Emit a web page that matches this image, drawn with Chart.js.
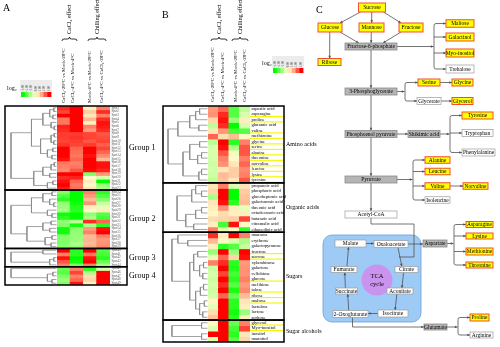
<!DOCTYPE html>
<html><head><meta charset="utf-8">
<script src="https://cdn.jsdelivr.net/npm/chart.js@4.4.1/dist/chart.umd.min.js"></script>
<style>
html,body{margin:0;padding:0;background:#fff;}
#wrap{position:relative;width:500px;height:347px;overflow:hidden;background:#fff;}
#wrap canvas{position:absolute;}
</style></head><body>
<div id="wrap">
<canvas id="heatA" width="53" height="179" style="left:57px;top:106px"></canvas>
<canvas id="heatB" width="42" height="236" style="left:208px;top:106px"></canvas>
<canvas id="overlay" width="500" height="347" style="left:0;top:0"></canvas>
</div>
<script>
// ================= DATA =================
const comparisons = ['CaCl₂-28°C vs Mock-28°C','CaCl₂-4°C vs Mock-4°C','Mock-4°C vs Mock-28°C','CaCl₂-4°C vs CaCl₂-28°C'];
const effects = ['CaCl₂ effect','Chilling effect'];
const legendSteps = [-3,-2,-1,-0.3,0.3,1,2,3];
const legendTicks = [-3,-2,-1,0,1,2,3];

// Panel A (protein spots, log2 ratios)
const groupNamesA = ['Group 1','Group 2','Group 3','Group 4'];
const group1Values = [
 [2.5,3,0.2,1.5],[2.2,3,0.6,2.5],[3,3,0.3,1.5],[1.6,3,0.8,2.5],[1.6,3,0.2,2.8],[2.6,3,1.5,2.7],
 [2.5,3,1.2,2.5],[2.3,2.3,2.2,2.0],[2.3,2.4,2.2,2.1],[2.2,2.3,2.0,2.2],[2.4,2.2,2.3,1.9],[3,1.8,3,2.2],
 [3,1.7,3,1.8],[3,1.6,2.8,1.4],[2.8,1.8,3,0.8],[1.6,1.5,3,2.8],[1.5,1.6,3,2.8],[1.4,2.0,2.9,2.6],
 [3,3,-1.5,1.2],[2.5,2.6,0,-0.5],[2.8,1.8,0.2,-3],[3,1.6,0.1,-1.2],[2.7,1.7,0.3,-1.0]];
const group2Values = [
 [-1.5,-3,1.5,-2.5],[-2,-3,1.2,-2],[-2.5,-3,0.8,-1.5],[-1.2,-2.8,1.3,-0.6],[-1.2,-2.6,0.2,-0.3],[-1.0,-2.5,0.1,0.2],
 [-2.8,-3,-1.3,-2],[-2.5,-3,-1.0,-2.2],[-1.3,-0.8,2.5,1.8],[-1.5,-2.8,-1,-2.5],[-2.8,-1.3,1.2,2.8],[-2.8,-1.3,1.5,3],
 [-1.4,-1.2,0.8,1.5],[-1.5,-1.2,0.9,1.2],[-1.5,-1.0,0.8,1.3],[-1.3,-1.2,1.0,1.4]];
const group3Values = [[3,-2.5,3,-2],[1.5,-2.5,1.6,-2.2],[2.8,-3,2.8,-2.5],[2.0,-2.8,3,-1.8],[1.5,-1.5,1.5,-1.0]];
const group4Values = [[-1.8,1.5,-2.5,-0.5],[-2,2.2,-1.0,3],[-1.5,1.5,0.4,3],[-1.2,1.8,0.5,3],[-1.5,2.8,0.2,3]];
const group1Spots = group1Values.map((_,i)=>'Spot'+(i+1));
const group2Spots = group2Values.map((_,i)=>'Spot'+(i+24));
const group3Spots = group3Values.map((_,i)=>'Spot'+(i+40));
const group4Spots = group4Values.map((_,i)=>'Spot'+(i+45));

// Panel B (metabolites, log2 ratios)
const classNamesB = ['Amino acids','Organic acids','Sugars','Sugar alcohols'];
const aminoNames = ['aspartic acid','asparagine','proline','glutamic acid','valine','methionine','glycine','serine','alanine','threonine','norvaline','leucine','lysine','tyrosine'];
const aminoValues = [[1.2,1.8,-2,-0.8],[1.3,2.5,-2,-0.5],[0.5,2.8,-1.2,0.2],[-0.8,2.5,-3,-0.5],[0.3,1.2,-2.2,-2],[1.8,0.4,0.8,0.1],[-0.8,3,-2.5,1.5],[-0.4,2.8,-1,2],[-0.5,2,-0.2,2],[-0.5,1.5,0.1,1.5],[-0.6,1.3,0.3,1.8],[-0.5,0.3,0.6,1.4],[-0.6,0.8,0.6,1.5],[-0.8,0.7,0.3,2]];
const organicNames = ['propanoic acid','phosphoric acid','glucoheptonic acid','galacturonic acid','threonic acid','octadecanoic acid','butanoic acid','citramalic acid','ethanedioic acid'];
const organicValues = [[0.3,1.5,-0.4,0.3],[0.5,3,-3,0.6],[-1,3,-3,0.7],[0.3,2.8,-2.5,0.8],[0.2,1.3,0.2,-0.3],[0.1,0.4,0.2,0.2],[0.4,0.5,0.6,2.2],[0.2,-2.2,2.8,0.1],[1.5,-0.4,0.1,-2.5]];
const sugarNames = ['mannose','erythrose','galactopyranose','fructose','sucrose','xylarabinose','galactose','cellobiose','glucose','melibiose','talose','ribose','maltose','lactulose','lactose','sorbose'];
const sugarValues = [[2.5,0.2,3,1.5],[0.8,0.1,-0.5,-1],[0.2,-2.5,-2,-0.7],[-1.2,3,-1.2,3],[-0.3,1.8,0.5,2.8],[1.5,2.5,-2.5,1.2],[-0.6,3,-2.6,1.3],[-0.5,2.2,-2.2,1.3],[-0.6,3,-2.5,1.5],[-0.5,2.5,-2,1.2],[-0.6,3,-2.7,1.4],[-0.5,1.8,-1.8,0.8],[0.1,3,-2.5,0.3],[-0.3,3,-2.5,0.2],[0.4,3,-2.8,-1.2],[0.7,3,-2.5,0.2]];
const alcoholNames = ['glycerol','Myo-inositol','inositol','mannitol'];
const alcoholValues = [[0.1,3,-1.8,1.5],[-0.4,3,-2.2,2.2],[3,3,-2.5,0.3],[-0.4,3,-2,0.5]];
const highlightedB = ['asparagine','proline','valine','methionine','glycine','serine','alanine','threonine','norvaline','leucine','lysine','tyrosine','fructose','sucrose','glucose','talose','ribose','maltose','glycerol','Myo-inositol'];

// Cluster trees: [linkage distance, left, right]; leaves are row indices
const treeA = [
 [1.0,[0.55,[0.3,[0.15,[0.06,0,1],[0.08,2,3]],[0.12,4,[0.05,5,6]]],[0.35,[0.12,[0.05,7,8],[0.06,9,10]],[0.2,[0.08,11,12],[0.1,13,14]]]],[0.5,[0.3,[0.12,[0.05,15,16],17],[0.15,18,19]],[0.2,[0.08,20,21],22]]],
 [1.0,[0.55,[0.3,[0.1,0,1],[0.15,2,[0.06,3,4]]],[0.2,5,[0.1,6,7]]],[0.65,[0.3,[0.12,8,9],[0.15,10,11]],[0.25,[0.1,12,13],[0.12,14,15]]]],
 [1.0,[0.3,0,1],[0.15,[0.06,2,3],4]],
 [1.0,0,[0.2,[0.08,1,2],[0.1,3,4]]]];
const treeB = [
 [1.0,[0.75,[0.45,[0.3,[0.2,0,1],2],[0.22,3,4]],5],[0.62,[0.45,[0.2,6,7],[0.25,[0.15,8,9],10]],[0.22,[0.15,11,12],13]]],
 [0.77,[0.4,[0.3,0,[0.15,1,2]],3],[0.55,[0.3,[0.15,4,5],6],[0.35,7,8]]],
 [0.9,[0.75,0,[0.5,1,2]],[0.45,[0.35,[0.25,3,4],[0.2,[0.1,5,6],[0.12,7,8]]],[0.3,[0.18,[0.1,9,10],11],[0.2,[0.08,12,13],[0.12,14,15]]]]],
 [0.9,[0.15,0,1],[0.15,2,3]]];

// Panel C pathway nodes: id -> [label, status] (up = increased, mid = intermediate, nd = not detected)
const pathwayNodes = {
 sucrose:['Sucrose','up'], glucose:['Glucose','up'], mannose:['Mannose','up'], fructose:['Fructose','up'], ribose:['Ribose','up'],
 f6p:['Fructose-6-phosphate','mid'], maltose:['Maltose','up'], odinlose:['Galactinol','up'], myo:['Myo-inositol','up'], trehalose:['Trehalose','nd'],
 serine:['Serine','up'], glycine:['Glycine','up'], glycerate:['Glycerate','nd'], glycerol:['Glycerol','up'], pg3:['3-Phosphoglycerate','mid'],
 pep:['Phosphoenol pyruvate','mid'], shik:['Shikimic acid','mid'], tyr:['Tyrosine','up'], trp:['Tryptophan','nd'], phe:['Phenylalanine','nd'],
 pyr:['Pyruvate','mid'], ala:['Alanine','up'], leu:['Leucine','up'], val:['Valine','up'], nva:['Norvaline','up'], ile:['Isoleucine','nd'],
 acoa:['Acetyl-CoA','nd'], malate:['Malate','nd'], oaa:['Oxaloacetate','nd'], citrate:['Citrate','nd'], acon:['Aconitate','nd'],
 isocit:['Isocitrate','nd'], og:['2-Oxoglutarate','nd'], succ:['Succinate','nd'], fum:['Fumarate','nd'], asp:['Aspartate','mid'],
 asn:['Asparagine','up'], lys:['Lysine','up'], met:['Methionine','up'], thr:['Threonine','up'], glu:['Glutamate','mid'], pro:['Proline','up'], arg:['Arginine','nd']};
const pathwayEdges = [
 ['sucrose','glucose','d'],['sucrose','mannose','d'],['sucrose','fructose','d'],['glucose','ribose','d'],['glucose','f6p','d'],
 ['mannose','f6p','d'],['fructose','f6p','d'],['f6p','pg3','d'],['pg3','pep','d'],['pep','pyr','d'],['pyr','acoa','d'],
 ['serine','glycine','r'],['glycerate','glycerol','r'],['pep','shik','r'],['val','nva','r'],['malate','oaa','r'],['oaa','asp','r'],
 ['isocit','og','l'],['oaa','citrate','d'],['citrate','acon','d'],['acon','isocit','d'],['og','succ','u'],['succ','fum','u'],['fum','malate','u']];
const pathwayFans = [['f6p',['maltose','odinlose','myo','trehalose']],['pg3',['serine','glycerate']],['shik',['tyr','trp','phe']],
 ['pyr',['ala','leu','val','ile']],['asp',['asn','lys','met','thr']],['glu',['pro','arg']]];

// ================= LAYOUT (positions / sizes / styles) =================
const FONT = '"Liberation Serif","Times New Roman",Times,serif';
const HA = {x:57, y:106, w:53, h:179};
const HB = {x:208, y:106, w:42, h:236};
const nodeBox = { // cx, cy, w, h
 sucrose:[372,7.5,27,9], glucose:[330,27.5,24,9], mannose:[371.5,27.5,25,9], fructose:[411,27.5,24,9], ribose:[329.5,62,23,7],
 f6p:[371,46.5,52,7], maltose:[460,23.5,28,7.5], odinlose:[460,37,28,8], myo:[460,53,28,8], trehalose:[460,69,28,8],
 serine:[429,82.5,22,7], glycine:[462.5,82.5,21,7], glycerate:[429,101,24,7], glycerol:[462.5,101,21,7], pg3:[371,91.5,52,7],
 pep:[371,134,52,7], shik:[424,134,32,7], tyr:[477.5,115.5,31,7], trp:[477.5,133,31,7], phe:[478.5,152.5,33,7],
 pyr:[371,179.5,52,7], ala:[437.5,160,25,6.5], leu:[437.5,171.5,25,6.5], val:[437.5,186,25,6.5], nva:[475.5,186,25,6.5], ile:[437.5,200,25,6.5],
 acoa:[371,214.5,52,7], malate:[350.5,243.5,31,7], oaa:[391,244,34,7], citrate:[406.5,269.5,23,6], acon:[400,291,26,6],
 isocit:[393,313.5,30,7], og:[350.5,314,35,7], succ:[346.5,291,22,6], fum:[344,269.5,26,6], asp:[435,243.5,24,7],
 asn:[479.5,224.5,27,6], lys:[479.5,236,27,6], met:[479.5,251.5,27,7], thr:[479.5,265,27,6], glu:[435.5,327,23,6], pro:[479.5,317.5,19,7], arg:[481.5,335,23,6]};
const nodeStyle = {up:{fill:'#ffff00',stroke:'#f0502a',lw:1}, mid:{fill:'#b5b5b5',stroke:'#8a8a8a',lw:0.8}, nd:{fill:'#ffffff',stroke:'#9a9a9a',lw:0.7}};

function heatColor(v){
  const t=Math.max(-1,Math.min(1,v/3));
  let c;
  if(t>=0) c=[255,Math.round(255*(1-t)),Math.round(204*(1-t))];
  else {const u=-t; c=[Math.round(255*(1-u)),255,Math.round(204*(1-u))];}
  return 'rgb('+c.join(',')+')';
}

// ================= HEATMAPS =================
const rowsA = [].concat(group1Values,group2Values,group3Values,group4Values);
const rowsB = [].concat(aminoValues,organicValues,sugarValues,alcoholValues);
const groupsA = [group1Values.length,group2Values.length,group3Values.length,group4Values.length];
const groupsB = [aminoValues.length,organicValues.length,sugarValues.length,alcoholValues.length];
const labelsA = [].concat(group1Spots,group2Spots,group3Spots,group4Spots);
const labelsB = [].concat(aminoNames,organicNames,sugarNames,alcoholNames);

function makeHeat(id, rows){
  return new Chart(document.getElementById(id), {
    type:'bar',
    data:{labels:comparisons, datasets: rows.map(r=>({data:r.map(()=>1), backgroundColor:r.map(heatColor), borderWidth:0, inflateAmount:0.5, barPercentage:1, categoryPercentage:1}))},
    options:{responsive:false, animation:false, devicePixelRatio:1, events:[], layout:{padding:0},
      plugins:{legend:{display:false}, tooltip:{enabled:false}},
      scales:{x:{stacked:true, display:false}, y:{stacked:true, display:false, reverse:true, min:0, max:rows.length}}}
  });
}
makeHeat('heatA', rowsA);
makeHeat('heatB', rowsB);

// ================= DENDROGRAMS (as line datasets) =================
function dendroPoints(tree, yOf, xRight, width){
  const pts=[];
  (function rec(n){
    if(typeof n==='number') return {x:xRight, y:yOf(n)};
    const A=rec(n[1]), B=rec(n[2]); const x=xRight-n[0]*width;
    pts.push({x:A.x,y:A.y},{x:x,y:A.y},{x:x,y:B.y},{x:B.x,y:B.y},{x:NaN,y:NaN});
    return {x:x, y:(A.y+B.y)/2};
  })(tree);
  return pts;
}
const dendroSets = [];
(function(){
  const rhA = HA.h/rowsA.length, rhB = HB.h/rowsB.length;
  let off=0;
  treeA.forEach((t,g)=>{ const o=off; dendroSets.push(dendroPoints(t, i=>HA.y+(o+i+0.5)*rhA, HA.x-0.5, 45.5)); off+=groupsA[g]; });
  off=0;
  treeB.forEach((t,g)=>{ const o=off; dendroSets.push(dendroPoints(t, i=>HB.y+(o+i+0.5)*rhB, HB.x-0.5, 39.5)); off+=groupsB[g]; });
})();

// ================= DRAW HELPERS =================
function txt(ctx,s,x,y,size,o){
  o=o||{}; ctx.save(); ctx.font=(o.bold?'bold ':'')+size+'px '+FONT; ctx.fillStyle=o.color||'#000';
  ctx.textAlign=o.align||'left'; ctx.textBaseline=o.base||'middle';
  if(o.rot){ctx.translate(x,y);ctx.rotate(o.rot);ctx.fillText(s,0,0);} else ctx.fillText(s,x,y);
  ctx.restore();
}
function brace(ctx,x1,x2,y){
  const m=(x1+x2)/2; ctx.save(); ctx.strokeStyle='#000'; ctx.lineWidth=0.8; ctx.beginPath();
  ctx.moveTo(x1,y+2); ctx.quadraticCurveTo(x1,y,x1+2,y); ctx.lineTo(m-2,y); ctx.quadraticCurveTo(m,y,m,y-2);
  ctx.quadraticCurveTo(m,y,m+2,y); ctx.lineTo(x2-2,y); ctx.quadraticCurveTo(x2,y,x2,y+2); ctx.stroke(); ctx.restore();
}
function head(ctx,x0,y0,x1,y1){
  const a=Math.atan2(y1-y0,x1-x0), s=3;
  ctx.beginPath(); ctx.moveTo(x1,y1);
  ctx.lineTo(x1-s*Math.cos(a-0.45),y1-s*Math.sin(a-0.45)); ctx.lineTo(x1-s*Math.cos(a+0.45),y1-s*Math.sin(a+0.45)); ctx.closePath(); ctx.fill();
}
function poly(ctx,pts,arrow){
  ctx.beginPath(); ctx.moveTo(pts[0][0],pts[0][1]); for(let i=1;i<pts.length;i++) ctx.lineTo(pts[i][0],pts[i][1]); ctx.stroke();
  if(arrow){const n=pts.length; head(ctx,pts[n-2][0],pts[n-2][1],pts[n-1][0],pts[n-1][1]);}
}
const clamp=(v,a,b)=>Math.max(a,Math.min(b,v));
function box(id){const b=nodeBox[id]; return {cx:b[0],cy:b[1],w:b[2],h:b[3],l:b[0]-b[2]/2,r:b[0]+b[2]/2,t:b[1]-b[3]/2,b:b[1]+b[3]/2};}

function drawLegend(ctx,x,y,w,h,lx,ly){
  ctx.fillStyle='#ececec'; ctx.fillRect(x-1,y-12,w+2,12);
  txt(ctx,'log₂',lx,ly,6);
  const cw=w/legendSteps.length;
  legendSteps.forEach((v,i)=>{ctx.fillStyle=heatColor(v); ctx.fillRect(x+i*cw,y,cw+0.4,h);});
  const tw=w/legendTicks.length;
  legendTicks.forEach((v,i)=>txt(ctx,v.toFixed(2),x+(i+0.5)*tw,y-0.8,3,{rot:-Math.PI/2,color:'#666'}));
}

const figurePlugin = {
  id:'figure',
  afterDraw(chart){
    const ctx=chart.ctx;
    // ---------- Panel letters ----------
    txt(ctx,'A',3,8,10); txt(ctx,'B',162,15,10); txt(ctx,'C',316,10,10);
    // ---------- column headers ----------
    const hxA=[64,73,90,102], hxB=[213,223,235.5,245];
    comparisons.forEach((c,i)=>{ txt(ctx,c,hxA[i],103,5,{rot:-Math.PI/2}); txt(ctx,c,hxB[i],102,5,{rot:-Math.PI/2}); });
    const brA=[[62,77],[88,106]], brB=[[211,227],[232,248]];
    effects.forEach((e,i)=>{
      brace(ctx,brA[i][0],brA[i][1],39); brace(ctx,brB[i][0],brB[i][1],39);
      txt(ctx,e,(brA[i][0]+brA[i][1])/2,34,6,{rot:-Math.PI/2});
      txt(ctx,e,(brB[i][0]+brB[i][1])/2,34,6,{rot:-Math.PI/2});
    });
    // ---------- legends ----------
    drawLegend(ctx,21,92,30,5,7,88);
    drawLegend(ctx,273,68,30,5,262,63);
    // ---------- row labels A ----------
    const rhA=HA.h/rowsA.length, rhB=HB.h/rowsB.length;
    labelsA.forEach((s,i)=>txt(ctx,s,HA.x+HA.w+1.5,HA.y+(i+0.5)*rhA,3.2,{color:'#555'}));
    // ---------- row labels B ----------
    labelsB.forEach((s,i)=>{
      const yb=HB.y+(i+1)*rhB;
      if(highlightedB.indexOf(s)>=0){ctx.fillStyle='#f5f500'; ctx.fillRect(HB.x+HB.w,yb-1.1,33,1.1);}
      txt(ctx,s,HB.x+HB.w+1.5,HB.y+(i+0.5)*rhB,4.6);
    });
    // ---------- group boxes ----------
    ctx.save(); ctx.strokeStyle='#000'; ctx.lineWidth=1.5;
    let off=0;
    groupsA.forEach((n,g)=>{ const y0=HA.y+off*rhA, y1=HA.y+(off+n)*rhA; ctx.strokeRect(5,y0,122,y1-y0);
      txt(ctx,groupNamesA[g],129,(y0+y1)/2,8); off+=n; });
    off=0;
    groupsB.forEach((n,g)=>{ const y0=HB.y+off*rhB, y1=HB.y+(off+n)*rhB; ctx.strokeRect(163,y0,121,y1-y0);
      txt(ctx,classNamesB[g],286,(y0+y1)/2,6); off+=n; });
    ctx.restore();

    // ---------- Panel C ----------
    ctx.save();
    ctx.fillStyle='#9ecbf6'; ctx.strokeStyle='#6b9fd6'; ctx.lineWidth=0.8;
    ctx.beginPath(); ctx.roundRect(323,235,98,87,9); ctx.fill(); ctx.stroke();
    ctx.fillStyle='#c993ee'; ctx.beginPath(); ctx.arc(377,280,15.5,0,Math.PI*2); ctx.fill();
    txt(ctx,'TCA',377,276.5,6.5,{align:'center'}); txt(ctx,'cycle',377,284,6.5,{align:'center'});
    ctx.strokeStyle='#505050'; ctx.fillStyle='#505050'; ctx.lineWidth=0.8;
    pathwayEdges.forEach(e=>{
      const s=box(e[0]), t=box(e[1]);
      if(e[2]==='d'){ const sx=clamp(s.cx+(t.cx-s.cx)*0.45,s.l+2,s.r-2), ex=clamp(t.cx+(s.cx-t.cx)*0.3,t.l+2,t.r-2); poly(ctx,[[sx,s.b],[ex,t.t]],true); }
      else if(e[2]==='u'){ const sx=clamp(s.cx+(t.cx-s.cx)*0.45,s.l+2,s.r-2), ex=clamp(t.cx+(s.cx-t.cx)*0.3,t.l+2,t.r-2); poly(ctx,[[sx,s.t],[ex,t.b]],true); }
      else if(e[2]==='r'){ poly(ctx,[[s.r,s.cy],[t.l,s.cy]],true); }
      else if(e[2]==='l'){ poly(ctx,[[s.l,s.cy],[t.r,s.cy]],true); }
    });
    pathwayFans.forEach(f=>{
      const s=box(f[0]); const ts=f[1].map(box);
      const bx=Math.min.apply(null,ts.map(t=>t.l))-12;
      poly(ctx,[[s.r,s.cy],[bx-0.5,s.cy]],true);
      const y0=Math.min.apply(null,ts.map(t=>t.cy)), y1=Math.max.apply(null,ts.map(t=>t.cy));
      ctx.beginPath(); ctx.moveTo(bx+2,y0); ctx.quadraticCurveTo(bx,y0,bx,y0+2); ctx.lineTo(bx,y1-2); ctx.quadraticCurveTo(bx,y1,bx+2,y1); ctx.stroke();
      ts.forEach(t=>poly(ctx,[[bx+(t.cy===y0||t.cy===y1?2:0),t.cy],[t.l,t.cy]],true));
    });
    (function(){ const a=box('acoa'), c=box('citrate'), o=box('oaa');
      const yj=(o.b+c.t)/2, xr=c.r-4;
      poly(ctx,[[a.cx,a.b],[a.cx,a.b+6],[xr,a.b+6],[xr,yj],[o.cx+8,yj]],false);
      const g=box('og'), gl=box('glu');
      poly(ctx,[[g.cx+2,g.b],[g.cx+2,gl.cy],[gl.l,gl.cy]],true);
    })();
    Object.keys(nodeBox).forEach(id=>{
      const b=box(id), st=nodeStyle[pathwayNodes[id][1]];
      ctx.fillStyle=st.fill; ctx.strokeStyle=st.stroke; ctx.lineWidth=st.lw;
      ctx.fillRect(b.l,b.t,b.w,b.h); ctx.strokeRect(b.l,b.t,b.w,b.h);
      txt(ctx,pathwayNodes[id][0],b.cx,b.cy+0.3,5.5,{align:'center'});
    });
    ctx.restore();
  }
};

new Chart(document.getElementById('overlay'), {
  type:'scatter',
  data:{datasets: dendroSets.map(p=>({data:p, showLine:true, spanGaps:false, borderColor:'#8c8c8c', borderWidth:0.8, pointRadius:0, fill:false}))},
  options:{responsive:false, animation:false, devicePixelRatio:1, events:[], layout:{padding:0},
    plugins:{legend:{display:false}, tooltip:{enabled:false}},
    scales:{x:{type:'linear',min:0,max:500,display:false}, y:{type:'linear',min:0,max:347,reverse:true,display:false}}},
  plugins:[figurePlugin]
});
</script>
</body></html>
